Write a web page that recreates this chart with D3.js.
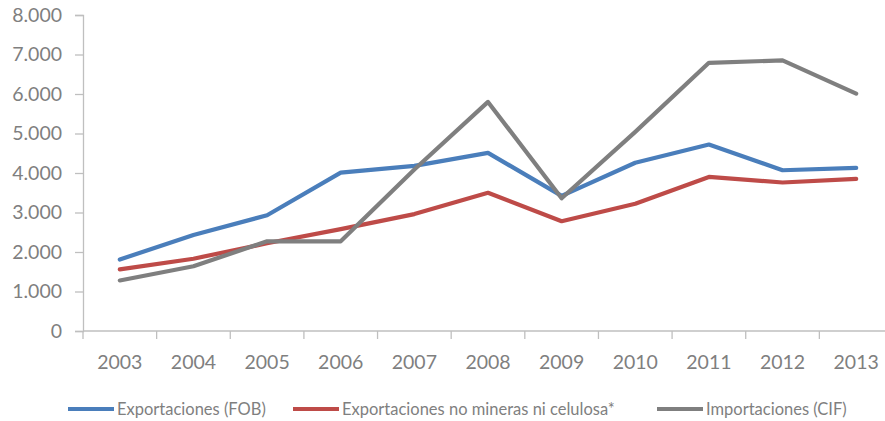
<!DOCTYPE html>
<html><head><meta charset="utf-8">
<script src="https://cdn.jsdelivr.net/npm/d3@7/dist/d3.min.js"></script>
<style>body{margin:0;background:#fff;}svg{display:block;}</style>
</head><body><svg id="c" width="885" height="421"></svg>
<script>
const years = ["2003","2004","2005","2006","2007","2008","2009","2010","2011","2012","2013"];
const exportFOB = [1810, 2430, 2930, 4010, 4180, 4510, 3420, 4260, 4720, 4070, 4130];
const exportNoMin = [1560, 1830, 2220, 2580, 2960, 3500, 2780, 3220, 3900, 3760, 3850];
const importCIF = [1280, 1640, 2270, 2270, 4090, 5800, 3360, 5040, 6790, 6850, 6010];
const yTicks = [0, 1000, 2000, 3000, 4000, 5000, 6000, 7000, 8000];
const seriesNames = ["Exportaciones (FOB)", "Exportaciones no mineras ni celulosa*", "Importaciones (CIF)"];
const seriesColors = ["#4a7ebb", "#be4b48", "#7f7f7f"];

(function(){
const svg = d3.select("#c");
const font = "Lato, 'Open Sans', sans-serif";
const axisColor = "#bfbfbf", textColor = "#7f7f7f";
const mL = 83, mR = 893, mT = 15, mB = 331;

const x = d3.scaleBand().domain(years).range([mL, mR]);
const y = d3.scaleLinear().domain([0, 8000]).range([mB, mT]);
const fmt = v => d3.format(",")(v).replace(/,/g, ".");

// y axis
const ya = svg.append("g").attr("transform", `translate(${mL},0)`)
  .call(d3.axisLeft(y).tickValues(yTicks).tickSize(8).tickPadding(13).tickFormat(fmt));
ya.select(".domain").attr("stroke", axisColor).attr("stroke-width", 1.3);
ya.selectAll(".tick line").attr("stroke", axisColor).attr("stroke-width", 1.3);
ya.selectAll("text").attr("fill", textColor).attr("font-family", font).attr("font-size", 19.5);

// x axis with ticks at band boundaries
const xa = svg.append("g").attr("transform", `translate(0,${mB})`);
xa.append("line").attr("x1", mL).attr("x2", mR).attr("stroke", axisColor).attr("stroke-width", 1.3);
const bounds = years.map(d => x(d)).concat([x(years[years.length-1]) + x.bandwidth()]);
xa.selectAll("line.t").data(bounds).join("line").attr("class","t")
  .attr("x1", d => d).attr("x2", d => d).attr("y1", 0).attr("y2", 8)
  .attr("stroke", axisColor).attr("stroke-width", 1.3);
xa.selectAll("text").data(years).join("text")
  .attr("x", d => x(d) + x.bandwidth()/2).attr("y", 38)
  .attr("text-anchor", "middle").attr("fill", textColor)
  .attr("font-family", font).attr("font-size", 19.5).text(d => d);

// lines
const allSeries = [exportFOB, exportNoMin, importCIF];
const line = d3.line().x((d, i) => x(years[i]) + x.bandwidth()/2).y(d => y(d));
allSeries.forEach((s, k) => {
  svg.append("path").datum(s).attr("d", line).attr("fill", "none")
    .attr("stroke", seriesColors[k]).attr("stroke-width", 4.2)
    .attr("stroke-linejoin", "round").attr("stroke-linecap", "round");
});

// legend
const legendX = [68, 293, 657];
const lg = svg.append("g");
seriesNames.forEach((n, k) => {
  const g = lg.append("g").attr("transform", `translate(${legendX[k]},409)`);
  g.append("line").attr("x1", 0).attr("x2", 46).attr("stroke", seriesColors[k]).attr("stroke-width", 4.2);
  g.append("text").attr("x", 49).attr("y", 6).attr("fill", textColor)
    .attr("font-family", font).attr("font-size", 16.5).text(n);
});
})();
</script></body></html>
